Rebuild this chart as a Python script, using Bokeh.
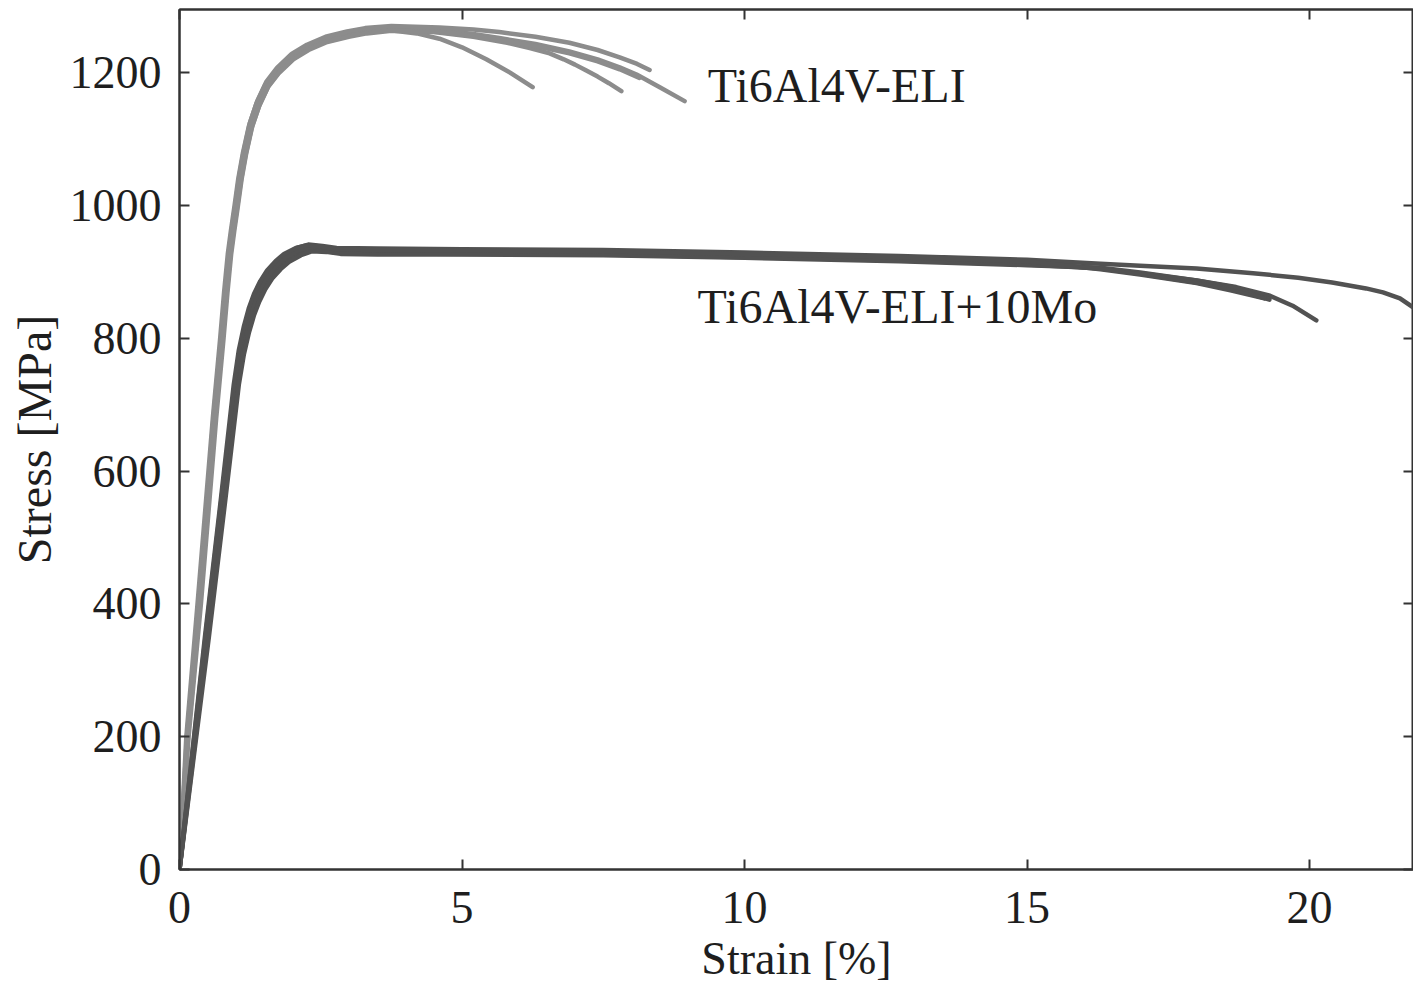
from bokeh.plotting import figure
from bokeh.models import Range1d, LinearAxis, FixedTicker
from bokeh.core.properties import value
from bokeh.embed import file_html
from bokeh.resources import INLINE

# ---------------- data (strain %, stress MPa) ----------------
x_ticks = [0, 5, 10, 15, 20]
y_ticks = [0, 200, 400, 600, 800, 1000, 1200]

# Ti6Al4V-ELI specimens
eli_1_x = [0, 0.12, 0.32, 0.47, 0.59, 0.72, 0.79, 0.855, 0.91, 0.97, 1.04, 1.12, 1.23, 1.36, 1.52, 1.71, 1.97, 2.24, 2.57, 2.95, 3.27,
           3.7, 4.2, 4.6, 5.0, 5.43, 5.85, 6.25]
eli_1_y = [0, 199, 401, 556, 680, 800, 870, 927, 962, 997, 1040, 1078, 1120, 1153, 1182, 1203, 1224, 1238, 1250, 1258, 1262,
           1264, 1259, 1251, 1238, 1220, 1200, 1178]
eli_2_x = [0, 0.16, 0.38, 0.53, 0.65, 0.78, 0.85, 0.915, 0.97, 1.03, 1.10, 1.18, 1.29, 1.42, 1.58, 1.77, 2.03, 2.3, 2.63, 3.01, 3.33,
           3.75, 4.5, 5.2, 5.8, 6.2, 6.55, 6.8, 7.0, 7.2, 7.4, 7.6, 7.82]
eli_2_y = [0, 199, 401, 556, 680, 800, 870, 927, 962, 997, 1040, 1078, 1120, 1152, 1181, 1202, 1222, 1236, 1248, 1256, 1261,
           1264, 1261, 1254, 1245, 1237, 1229, 1220, 1212, 1203, 1194, 1184, 1172]
eli_3_x = [0, 0.14, 0.35, 0.5, 0.62, 0.75, 0.82, 0.885, 0.94, 1.0, 1.07, 1.15, 1.26, 1.39, 1.55, 1.74, 2.0, 2.27, 2.6, 2.98, 3.3,
           3.75, 4.6, 5.2, 5.66, 6.3, 6.9, 7.4, 7.79, 8.09, 8.5, 8.94]
eli_3_y = [0, 199, 401, 556, 680, 800, 870, 927, 962, 997, 1040, 1078, 1120, 1153, 1182, 1203, 1224, 1238, 1250, 1258, 1263,
           1266, 1264, 1258, 1252, 1243, 1232, 1220, 1208, 1197, 1178, 1157]
eli_4_x = [0, 0.13, 0.34, 0.49, 0.6, 0.735, 0.805, 0.87, 0.925, 0.985, 1.055, 1.135, 1.245, 1.375, 1.535, 1.725, 1.985, 2.255, 2.585, 2.965, 3.285,
           3.75, 4.6, 5.2, 5.66, 6.3, 6.9, 7.4, 7.79, 8.1, 8.32]
eli_4_y = [0, 199, 401, 556, 680, 800, 870, 928, 964, 999, 1043, 1081, 1124, 1157, 1186, 1207, 1228, 1242, 1254, 1262, 1267,
           1270, 1268, 1265, 1261, 1254, 1245, 1234, 1223, 1213, 1204]
eli_5_x = [0, 0.15, 0.365, 0.515, 0.635, 0.765, 0.835, 0.9, 0.955, 1.015, 1.085, 1.165, 1.275, 1.405, 1.565, 1.755, 2.015, 2.285, 2.615, 2.995, 3.315,
           3.75, 4.6, 5.2, 5.66, 6.3, 6.9, 7.4, 7.79, 8.14]
eli_5_y = [0, 199, 401, 556, 680, 800, 868, 925, 960, 994, 1036, 1074, 1116, 1149, 1178, 1199, 1220, 1234, 1246, 1254, 1259,
           1263, 1261, 1255, 1249, 1240, 1229, 1217, 1205, 1192]

# Ti6Al4V-ELI+10Mo specimens
mo_1_x = [0, 0.46, 0.74, 0.98, 1.07, 1.16, 1.25, 1.34, 1.45, 1.57, 1.72, 1.87, 2.08, 2.28, 2.53, 2.78, 3.5, 5.0, 7.5, 10.0, 12.74, 15.0, 16.3,
          17, 18, 19, 19.8, 20.4, 21, 21.3, 21.6, 21.84, 22.0]
mo_1_y = [0, 350, 556, 730, 781, 817, 845, 866, 885, 901, 915, 926, 936, 941, 939, 936, 935, 934, 933, 929, 924, 918, 912,
          909, 905, 898, 891, 884, 875, 869, 860, 846, 834]
mo_2_x = [0, 0.5, 0.79, 1.03, 1.12, 1.21, 1.3, 1.39, 1.5, 1.62, 1.77, 1.92, 2.13, 2.33, 2.58, 2.83, 3.5, 5.0, 7.5, 10.0, 12.74, 15.0, 16.3,
          17, 18, 18.7, 19.3, 19.7, 20.12]
mo_2_y = [0, 350, 556, 730, 778, 812, 838, 858, 877, 893, 907, 918, 928, 933, 932, 929, 928, 927, 926, 922, 917, 911, 905,
          898, 887, 877, 864, 849, 827]
mo_3_x = [0, 0.48, 0.76, 1.0, 1.09, 1.18, 1.27, 1.36, 1.47, 1.59, 1.74, 1.89, 2.1, 2.3, 2.55, 2.8, 3.5, 5.0, 7.5, 10.0, 12.74, 15.0, 16.3,
          17, 18, 18.7, 19.29]
mo_3_y = [0, 350, 556, 730, 780, 815, 842, 862, 881, 897, 911, 922, 932, 937, 935, 932, 931, 930, 929, 925, 920, 914, 905,
          897, 884, 873, 858]
mo_4_x = [0, 0.52, 0.81, 1.05, 1.14, 1.23, 1.32, 1.41, 1.52, 1.64, 1.79, 1.94, 2.15, 2.35, 2.6, 2.85, 3.5, 5.0, 7.5, 10.0, 12.74, 15.0, 16.3,
          17, 18, 18.7, 19.06]
mo_4_y = [0, 350, 556, 730, 776, 809, 835, 855, 874, 890, 904, 915, 925, 931, 930, 927, 926, 926, 925, 921, 916, 910, 906,
          899, 887, 876, 864]
mo_5_x = [0, 0.45, 0.73, 0.96, 1.05, 1.14, 1.23, 1.32, 1.43, 1.55, 1.7, 1.85, 2.06, 2.26, 2.51, 2.76, 3.5, 5.0, 7.5, 10.0, 12.74, 15.0, 16.3,
          17, 18, 18.6, 19.2]
mo_5_y = [0, 350, 556, 730, 782, 818, 846, 867, 886, 902, 916, 927, 936, 940, 938, 934, 933, 932, 931, 927, 922, 916, 904,
          896, 883, 872, 860]

eli_curves = [(eli_1_x, eli_1_y), (eli_2_x, eli_2_y), (eli_3_x, eli_3_y), (eli_4_x, eli_4_y), (eli_5_x, eli_5_y)]
mo_curves = [(mo_1_x, mo_1_y), (mo_2_x, mo_2_y), (mo_3_x, mo_3_y), (mo_4_x, mo_4_y), (mo_5_x, mo_5_y)]

labels = ["Ti6Al4V-ELI", "Ti6Al4V-ELI+10Mo"]
label_x = [9.35, 9.17]
label_y = [1181, 848]

# ---------------- styling ----------------
FONT = "Liberation Serif"
TXT = "#1e1e1e"
FRAME = "#333333"
ELI_COLOR = "#8c8c8c"
MO_COLOR = "#525252"

p = figure(frame_width=1234, frame_height=860,
           x_range=Range1d(0, 21.84), y_range=Range1d(0, 1295),
           output_backend="svg", toolbar_location=None,
           min_border_left=179, min_border_right=0, min_border_top=9, min_border_bottom=0,
           background_fill_color="white", border_fill_color="white")
p.grid.visible = False
p.outline_line_color = FRAME
p.outline_line_width = 2

for xs, ys in eli_curves:
    p.line(xs, ys, line_color=ELI_COLOR, line_width=4.5, line_cap="round", line_join="round")
for xs, ys in mo_curves:
    p.line(xs, ys, line_color=MO_COLOR, line_width=4.5, line_cap="round", line_join="round")

p.text(x=label_x, y=label_y, text=labels, text_font=value(FONT), text_font_size="48px",
       text_color=TXT, text_align="left", text_baseline="alphabetic")

def style_axis(ax, show_labels):
    ax.major_tick_in = 10
    ax.major_tick_out = 0
    ax.minor_tick_line_color = None
    ax.major_tick_line_color = FRAME
    ax.major_tick_line_width = 2
    ax.axis_line_color = FRAME
    ax.axis_line_width = 2
    if show_labels:
        ax.major_label_text_font = FONT
        ax.major_label_text_font_size = "46px"
        ax.major_label_text_color = TXT
        ax.axis_label_text_font = FONT
        ax.axis_label_text_font_size = "48px"
        ax.axis_label_text_font_style = "normal"
        ax.axis_label_text_color = TXT
    else:
        ax.major_label_text_font_size = "0px"
        ax.major_label_text_color = None
        ax.major_label_standoff = 0

xa = p.xaxis[0]
xa.ticker = FixedTicker(ticks=x_ticks)
xa.axis_label = "Strain [%]"
style_axis(xa, True)
xa.axis_label_text_font_size = "46px"
xa.major_label_standoff = 22
xa.axis_label_standoff = 7

ya = p.yaxis[0]
ya.ticker = FixedTicker(ticks=y_ticks)
ya.axis_label = "Stress [MPa]"
style_axis(ya, True)
ya.major_label_standoff = 18
ya.axis_label_standoff = 6

top = LinearAxis(ticker=FixedTicker(ticks=x_ticks))
style_axis(top, False)
p.add_layout(top, "above")
right = LinearAxis(ticker=FixedTicker(ticks=y_ticks))
style_axis(right, False)
p.add_layout(right, "right")

open("out.html", "w").write(file_html(p, INLINE))
